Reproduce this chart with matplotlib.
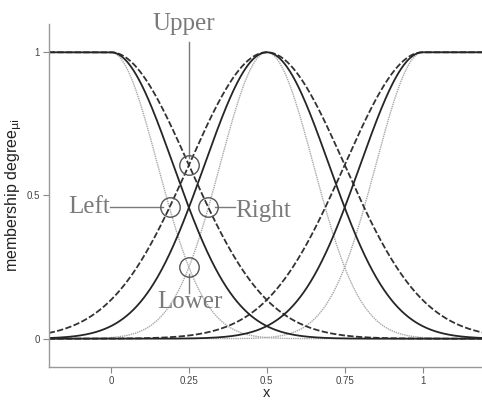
import numpy as np
import matplotlib
matplotlib.use("Agg")
import matplotlib.pyplot as plt

# membership functions: centres and widths
centers = [0.0, 0.5, 1.0]
sigma_dashed = 0.25
sigma_solid = 0.20
sigma_dotted = 0.15

xticks = [0, 0.25, 0.5, 0.75, 1]
xticklabels = ["0", "0.25", "0.5", "0.75", "1"]
yticks = [0, 0.5, 1]
yticklabels = ["0", "0.5", "1"]


def mf(x, c, s):
    y = np.exp(-(x - c) ** 2 / (2 * s ** 2))
    if c == centers[0]:
        y = np.where(x <= c, 1.0, y)
    if c == centers[-1]:
        y = np.where(x >= c, 1.0, y)
    return y


x = np.linspace(-0.2, 1.2, 1401)

fig = plt.figure(figsize=(4.82, 4.01), dpi=100)
ax = fig.add_axes([0.101, 0.084, 0.905, 0.857])

for c in centers:
    ax.plot(x, mf(x, c, sigma_dotted), color="#a8a8a8", lw=1.0, ls=(0, (1, 0.6)))
for c in centers:
    ax.plot(x, mf(x, c, sigma_dashed), color="#333333", lw=1.3, ls=(0, (3.5, 1.3)))
for c in centers:
    ax.plot(x, mf(x, c, sigma_solid), color="#262626", lw=1.3)

# marked points
xu = 0.25
yu = mf(np.array([xu]), centers[1], sigma_dashed)[0]
yl = mf(np.array([xu]), centers[1], sigma_dotted)[0]
seg = (x > 0.05) & (x < 0.25)
d = np.abs(mf(x, centers[1], sigma_dashed) - mf(x, centers[0], sigma_dotted))
i = np.argmin(np.where(seg, d, 9))
xleft, yleft = x[i], mf(x, centers[1], sigma_dashed)[i]
xright, yright = 0.5 - xleft, yleft

gray = "#7a7a7a"
for px, py in [(xu, yu), (xu, yl), (xleft, yleft), (xright, yright)]:
    ax.plot(px, py, "o", ms=14, mfc="none", mec="#555555", mew=1.0, zorder=5)

r = 7 / 286.3
rx = 7 / 311.7
ax.plot([xu, xu], [yu + r, 1.036], color=gray, lw=1, clip_on=False)
ax.plot([xu, xu], [yl - r, 0.16], color=gray, lw=1)
ax.plot([-0.003, xleft - rx], [yleft, yleft], color=gray, lw=1)
ax.plot([xright + rx, 0.398], [yright, yright], color=gray, lw=1)

tfont = dict(family="Liberation Serif", size=18, color=gray)
ax.text(0.234, 1.078, "Upper", ha="center", va="baseline", clip_on=False, **tfont)
ax.text(0.252, 0.106, "Lower", ha="center", va="baseline", **tfont)
ax.text(-0.003, 0.44, "Left", ha="right", va="baseline", **tfont)
ax.text(0.398, 0.426, "Right", ha="left", va="baseline", **tfont)

ax.set_xlim(-0.2, 1.2)
ax.set_ylim(-0.1, 1.1)
ax.set_xticks(xticks)
ax.set_xticklabels(xticklabels)
ax.set_yticks(yticks)
ax.set_yticklabels(yticklabels)
ax.tick_params(colors="#888888", labelcolor="#444444", labelsize=7, length=4, width=0.8,
               pad=2.5)
for lab in ax.get_xticklabels() + ax.get_yticklabels():
    lab.set_family("Liberation Sans")
for s in ["top", "right"]:
    ax.spines[s].set_visible(False)
for s in ["left", "bottom"]:
    ax.spines[s].set_color("#999999")
    ax.spines[s].set_linewidth(1.0)

ax.set_xlabel("x", fontsize=10.5, family="Liberation Sans", color="#222222", labelpad=0)
ax.set_ylabel(r"membership degree$_{\mathrm{\mu i}}$", fontsize=11.5,
              family="Liberation Sans", color="#222222", labelpad=2)

fig.savefig("out.png", dpi=100)
